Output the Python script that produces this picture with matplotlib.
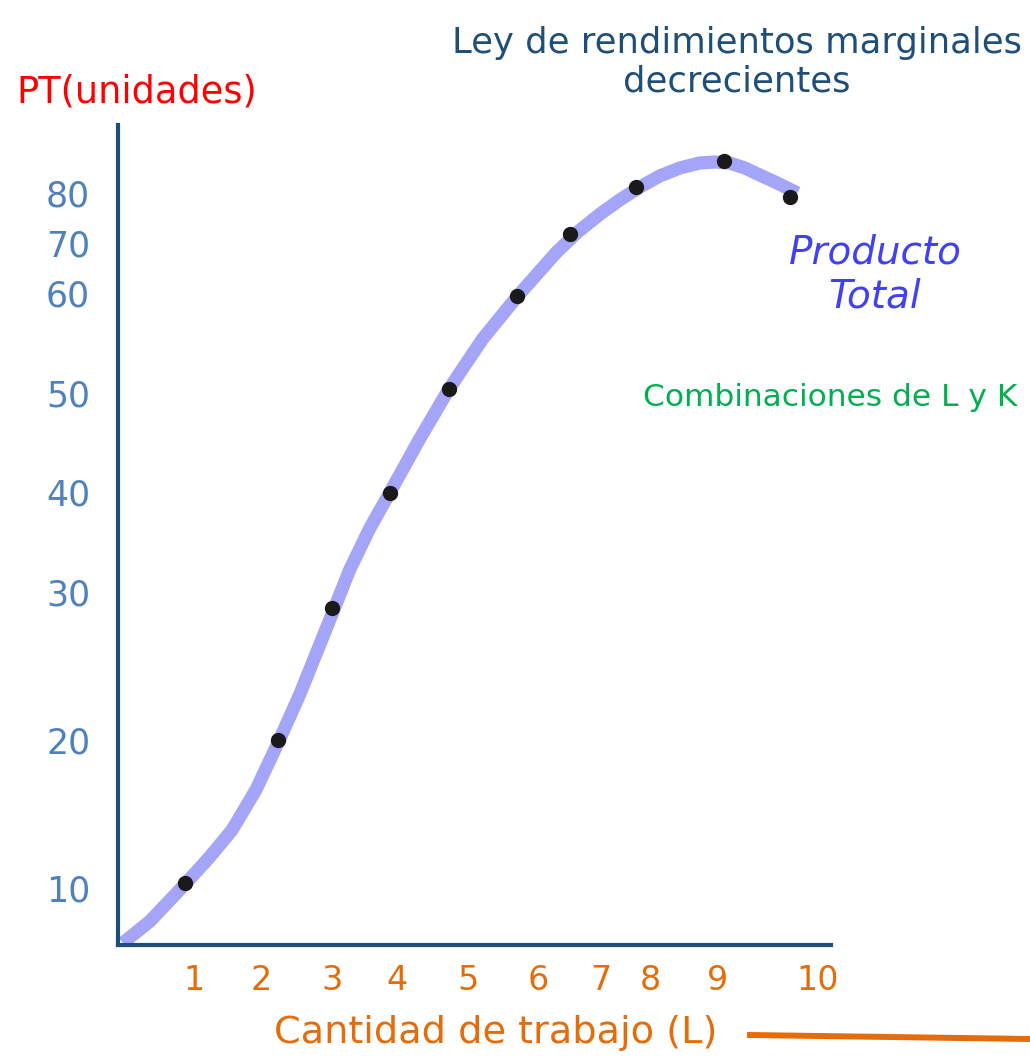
import matplotlib
matplotlib.use("Agg")
import matplotlib.pyplot as plt
from matplotlib.lines import Line2D

plt.rcParams["font.family"] = ["DejaVu Sans"]

# curve (hand drawn in the original) and observed points
curve_x = [0.07, 0.46, 0.96, 1.31, 1.63, 1.97, 2.3, 2.6, 2.83, 3.06, 3.31, 3.6,
           3.89, 4.31, 4.73, 5.21, 5.7, 5.99, 6.27, 6.57, 6.89, 7.17, 7.46, 7.74,
           8.03, 8.31, 8.53, 8.74, 8.96, 9.17, 9.39, 9.71]
curve_y = [0.2, 2.4, 6.1, 8.8, 11.5, 15.5, 20.4, 25.1, 29.1, 33.1, 37.5, 41.7,
           45.3, 50.6, 55.6, 60.6, 64.8, 67.1, 69.3, 71.3, 73.1, 74.5, 75.8, 76.9,
           77.7, 78.2, 78.3, 78.2, 77.7, 77.0, 76.3, 75.2]
points_x = [0.96, 2.29, 3.06, 3.89, 4.73, 5.7, 6.46, 7.41, 8.66, 9.6]
points_y = [6.2, 20.5, 33.7, 45.2, 55.6, 64.9, 71.1, 75.8, 78.4, 74.8]

# tick labels and where they sit on the (hand made) axes
xtick_labels = ["1", "2", "3", "4", "5", "6", "7", "8", "9", "10"]
xtick_pos = [1.09, 2.04, 3.06, 3.99, 5.0, 6.01, 6.9, 7.61, 8.57, 10.0]
ytick_labels = ["80", "70", "60", "50", "40", "30", "20", "10"]
ytick_pos = [75.2, 70.2, 65.2, 55.2, 45.3, 35.3, 20.5, 5.7]

title = "Ley de rendimientos marginales\ndecrecientes"
ylabel = "PT(unidades)"
xlabel = "Cantidad de trabajo (L)"
curve_label = "Producto\nTotal"
note = "Combinaciones de L y K"

W, H = 1030, 1057
fig = plt.figure(figsize=(W / 100, H / 100), dpi=100)
ax = fig.add_axes([118 / W, 1 - 945 / H, (831 - 118) / W, (945 - 125) / H])

ax.plot(curve_x, curve_y, color="#A4A4F8", lw=9.5, solid_capstyle="butt",
        solid_joinstyle="round", zorder=2)
ax.plot(points_x, points_y, "o", color="#1A1A1A", ms=10, zorder=3)

ax.set_xlim(0, 10.19)
ax.set_ylim(0, 82)

for s in ["top", "right"]:
    ax.spines[s].set_visible(False)
for s in ["left", "bottom"]:
    ax.spines[s].set_color("#1F4E79")
    ax.spines[s].set_linewidth(3)

ax.set_xticks(xtick_pos)
ax.set_xticklabels(xtick_labels)
ax.set_yticks(ytick_pos)
ax.set_yticklabels(ytick_labels)
ax.tick_params(axis="x", length=0, pad=14, labelsize=24, labelcolor="#E46C0A")
ax.tick_params(axis="y", length=0, pad=20, labelsize=25, labelcolor="#4F81BD")

fig.text(737 / W, 1 - 62 / H, title, ha="center", va="center", fontsize=25.5,
         color="#1F4E79", linespacing=1.15)
fig.text(16 / W, 1 - 92 / H, ylabel, ha="left", va="center", fontsize=26.5,
         color="#FF0000")
fig.text(496 / W, 1 - 1033 / H, xlabel, ha="center", va="center", fontsize=27.5,
         color="#E46C0A")
fig.text(875 / W, 1 - 275 / H, curve_label, ha="center", va="center",
         fontsize=28, style="italic", color="#4040F5", linespacing=1.2)
fig.text(643 / W, 1 - 397 / H, note, ha="left", va="center", fontsize=22.5,
         color="#00B050")

fig.add_artist(Line2D([750 / W, 1.0], [1 - 1035 / H, 1 - 1039 / H],
                      transform=fig.transFigure, color="#E46C0A", lw=4.3))

fig.savefig("out.png", dpi=100)
